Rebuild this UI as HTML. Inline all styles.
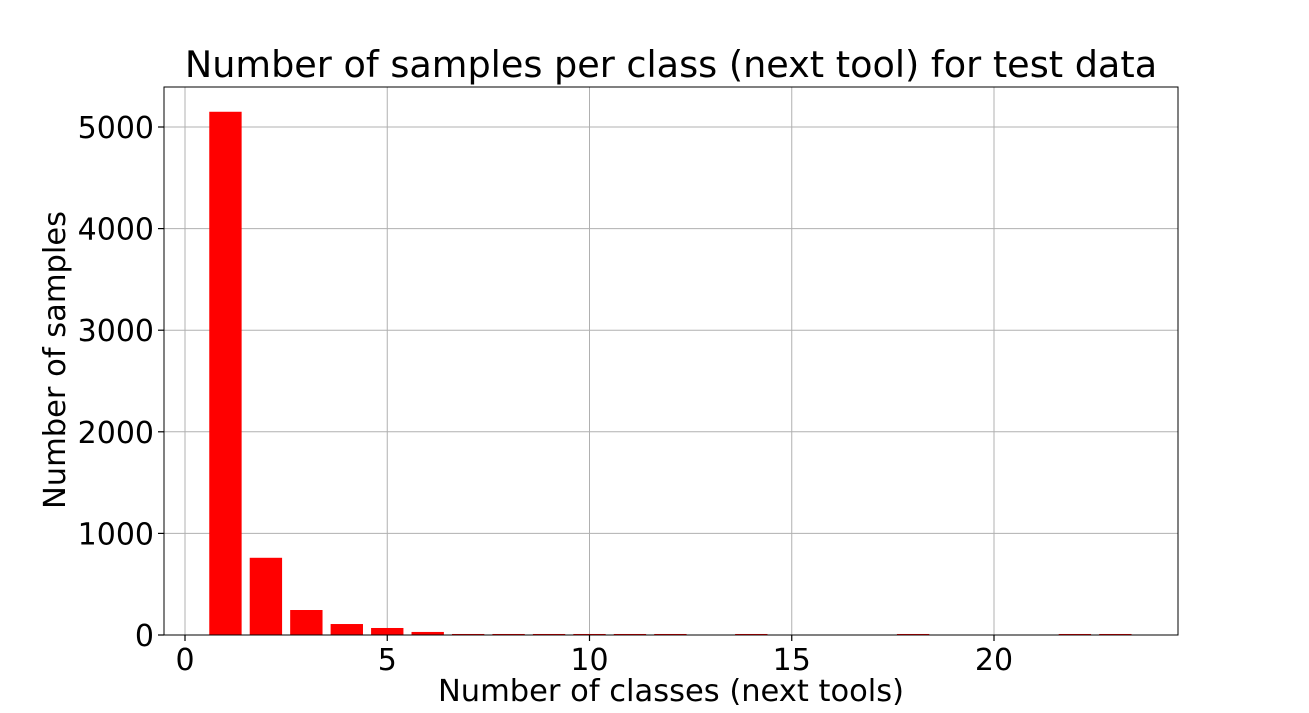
<!DOCTYPE html>
<html><head><meta charset="utf-8"><style>
body{margin:0;background:#fff;}
svg{display:block;font-family:"DejaVu Sans","Liberation Sans",sans-serif;}
</style></head><body>
<svg width="1309" height="713" id="chart">
<text x="671" y="77" text-anchor="middle" font-size="36.6">Number of samples per class (next tool) for test data</text>
<g id="grid"></g>
<g id="bars"></g>
<g id="axes"></g>
<text x="671" y="701" text-anchor="middle" font-size="30.5">Number of classes (next tools)</text>
<text transform="translate(65,360) rotate(-90)" text-anchor="middle" font-size="30.5">Number of samples</text>
</svg>
<script>
const categories=[1,2,3,4,5,6,7,8,9,10,11,12,14,18,22,23];
const counts=[5150,760,246,108,69,30,10,10,10,10,10,10,10,10,10,10];
const xTicks=[0,5,10,15,20];
const yTicks=[0,1000,2000,3000,4000,5000];
const L=164,R=1178,T=87,B=635;
const xs=v=>185+v*40.45;
const ys=v=>635-v*0.1016;
const NS="http://www.w3.org/2000/svg";
function mk(tag,attrs,parent){const e=document.createElementNS(NS,tag);for(const k in attrs)e.setAttribute(k,attrs[k]);parent.appendChild(e);return e;}
const grid=document.getElementById('grid'),bars=document.getElementById('bars'),axes=document.getElementById('axes');
xTicks.forEach(t=>{
 const l=mk('line',{x1:xs(t),x2:xs(t),y1:T,y2:B,stroke:'#b0b0b0','stroke-width':1},grid);
 
 
 const tk=mk('line',{x1:xs(t),x2:xs(t),y1:B,y2:B+6,stroke:'#000','stroke-width':1.2},axes);
 
 
 const tx=mk('text',{x:xs(t),y:B+35,'text-anchor':'middle','font-size':30},axes);
 tx.textContent=t;
 
 
});
yTicks.forEach(t=>{
 const l=mk('line',{x1:L,x2:R,y1:ys(t),y2:ys(t),stroke:'#b0b0b0','stroke-width':1},grid);
 
 
 const tk=mk('line',{x1:L-6,x2:L,y1:ys(t),y2:ys(t),stroke:'#000','stroke-width':1.2},axes);
 
 
 const tx=mk('text',{x:L-10,y:ys(t)+11,'text-anchor':'end','font-size':30},axes);
 tx.textContent=t;
 
 
});
categories.forEach((c,i)=>{
 const w=0.8*40.45;
 const r=mk('rect',{x:xs(c)-w/2,y:ys(counts[i]),width:w,height:B-ys(counts[i]),fill:'#ff0000'},bars);
 
 
});
const fr=mk('rect',{x:L,y:T,width:R-L,height:B-T,fill:'none',stroke:'#000','stroke-width':1},axes);


</script>
</body></html>
